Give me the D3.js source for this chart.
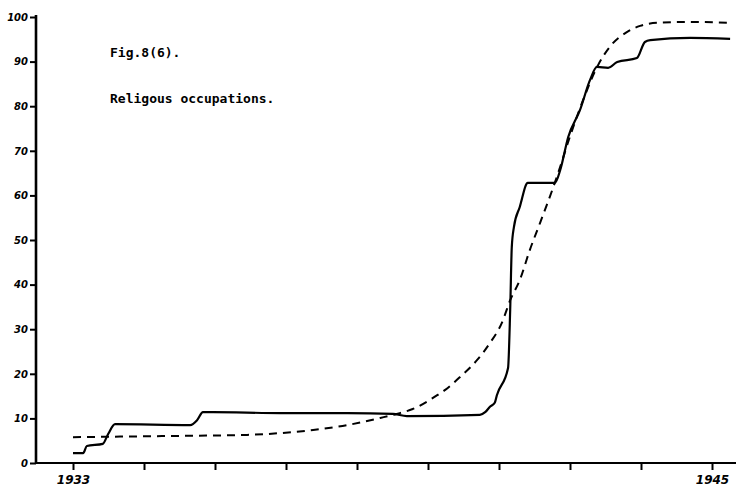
<!DOCTYPE html>
<html>
<head>
<meta charset="utf-8">
<script src="https://cdn.jsdelivr.net/npm/d3@7"></script>
<style>
  body { margin: 0; background: #fff; }
  svg { display: block; }
</style>
</head>
<body>
<svg id="chart" width="736" height="490"></svg>
<script>
//
// Data
//

// observed share, stepped line
var observedYears = [1933.0, 1933.19, 1933.26, 1933.56, 1933.66, 1933.79, 1935.2, 1935.33, 1935.44, 1935.63,
  1936.89, 1938.15, 1939.01, 1939.27, 1940.64, 1940.74, 1940.83, 1940.92, 1940.96, 1941.17,
  1941.21, 1941.24, 1941.28, 1941.39, 1941.54, 1942.05, 1942.15, 1942.3, 1942.52, 1942.71,
  1942.84, 1943.05, 1943.22, 1943.59, 1943.74, 1943.84, 1944.59, 1945.34]
var observedValues = [2.2, 2.2, 3.8, 4.3, 6.5, 8.7, 8.5, 9.6, 11.4, 11.4,
  11.2, 11.2, 11.0, 10.5, 10.8, 11.4, 12.6, 13.5, 15.2, 21.3,
  34.3, 48.4, 52.9, 57.4, 62.8, 62.8, 65.7, 73.1, 79.1, 85.9,
  88.8, 88.6, 89.9, 90.8, 94.4, 94.8, 95.3, 95.1]

// fitted curve, dashed line
var fittedYears = [1933.0, 1935.14, 1936.27, 1936.89, 1937.51, 1938.15, 1938.77, 1939.08, 1939.38, 1939.84,
  1939.99, 1940.27, 1940.59, 1940.83, 1941.06, 1941.21, 1941.39, 1941.58, 1941.77, 1942.0,
  1942.11, 1942.33, 1942.58, 1942.86, 1943.08, 1943.4, 1943.65, 1943.97, 1944.59, 1945.34]
var fittedValues = [5.8, 6.1, 6.3, 6.7, 7.4, 8.5, 10.1, 11.0, 12.1, 15.2,
  16.4, 19.3, 23.1, 26.9, 31.6, 36.5, 41.0, 47.8, 53.8, 61.2,
  65.0, 73.1, 81.4, 89.2, 93.3, 96.6, 98.0, 98.7, 98.9, 98.7]

var yTicks = [0, 10, 20, 30, 40, 50, 60, 70, 80, 90, 100]
var xTickCount = 10
var xTickLabels = ['1933', '', '', '', '', '', '', '', '', '1945']

var titleLines = ['Fig.8(6).', 'Religous occupations.']

//
// Setup
//

var svg = d3.select('#chart')
var x = d3.scaleLinear().domain([1933, 1945]).range([73, 712])
var y = d3.scaleLinear().domain([0, 100]).range([463, 17])

var xTicks = d3.range(xTickCount).map(function (i) {
  return 1933 + (i * 12) / (xTickCount - 1)
})

// x axis: line runs to the right edge
svg.append('line')
  .attr('x1', 36).attr('x2', 736)
  .attr('y1', y(0)).attr('y2', y(0))
  .attr('stroke', '#000').attr('stroke-width', 2.2)

var xAxis = d3.axisBottom(x)
  .tickValues(xTicks)
  .tickSize(7)
  .tickFormat(function (d, i) { return xTickLabels[i] })
var gx = svg.append('g')
  .attr('transform', 'translate(0,' + y(0) + ')')
  .call(xAxis)
gx.select('.domain').remove()
gx.selectAll('line').attr('stroke', '#000').attr('stroke-width', 2)
gx.selectAll('text')
  .attr('dy', '0.95em')
  .style('font-family', '"DejaVu Sans", sans-serif')
  .style('font-style', 'italic')
  .style('font-weight', 'bold')
  .style('font-size', '12px')
  .attr('fill', '#000')

// y axis
var yAxis = d3.axisLeft(y).tickValues(yTicks).tickSize(6).tickPadding(2)
var gy = svg.append('g')
  .attr('transform', 'translate(36,0)')
  .call(yAxis)
gy.select('.domain')
  .attr('d', 'M0,' + (y(100) - 2) + 'V' + y(0))
  .attr('stroke', '#000').attr('stroke-width', 2.6)
gy.selectAll('line').attr('stroke', '#000').attr('stroke-width', 2)
gy.selectAll('text')
  .style('font-family', '"DejaVu Sans", sans-serif')
  .style('font-style', 'italic')
  .style('font-weight', 'bold')
  .style('font-size', '10px')
  .attr('fill', '#000')

//
// Lines
//

var line = d3.line()
  .x(function (d) { return x(d[0]) })
  .y(function (d) { return y(d[1]) })
  .curve(d3.curveMonotoneX)

svg.append('path')
  .datum(d3.zip(fittedYears, fittedValues))
  .attr('d', line)
  .attr('fill', 'none')
  .attr('stroke', '#000')
  .attr('stroke-width', 2)
  .attr('stroke-dasharray', '8,6')

svg.append('path')
  .datum(d3.zip(observedYears, observedValues))
  .attr('d', line)
  .attr('fill', 'none')
  .attr('stroke', '#000')
  .attr('stroke-width', 2.2)
  .attr('stroke-linejoin', 'round')

//
// Title
//

svg.selectAll('.title')
  .data(titleLines)
  .enter()
  .append('text')
  .attr('class', 'title')
  .attr('x', 110)
  .attr('y', function (d, i) { return 57 + i * 46 })
  .style('font-family', '"DejaVu Sans Mono", monospace')
  .style('font-weight', 'bold')
  .style('font-size', '13px')
  .attr('fill', '#000')
  .text(function (d) { return d })
</script>
</body>
</html>
